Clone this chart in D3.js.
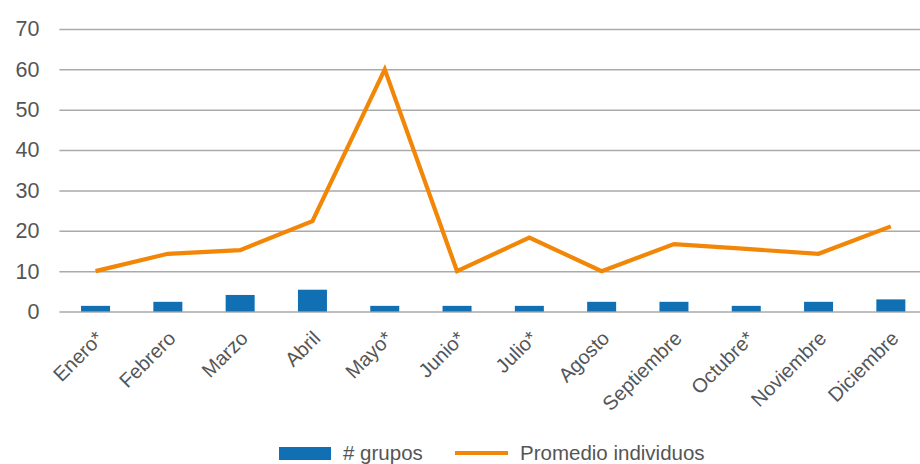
<!DOCTYPE html>
<html>
<head>
<meta charset="utf-8">
<script src="https://cdn.jsdelivr.net/npm/d3@7"></script>
<style>
  body { margin: 0; background: #fff; }
  svg { font-family: "Liberation Sans", Arial, sans-serif; }
  .tick text { fill: #555; }
</style>
</head>
<body>
<svg width="920" height="464"></svg>
<script>
const months = ["Enero*", "Febrero", "Marzo", "Abril", "Mayo*", "Junio*", "Julio*",
  "Agosto", "Septiembre", "Octubre*", "Noviembre", "Diciembre"];
const grupos = [1.4, 2.4, 4.1, 5.4, 1.4, 1.4, 1.4, 2.4, 2.4, 1.4, 2.4, 3.0];
const promedio = [10, 14.3, 15.2, 22.4, 60, 10, 18.3, 10, 16.7, 15.5, 14.3, 21.1];
const yTicks = [0, 10, 20, 30, 40, 50, 60, 70];

const svg = d3.select("svg");
const margin = { top: 29, left: 59.4, right: -7, bottom: 153 };
const width = +svg.attr("width");
const height = +svg.attr("height");

// escala de categorías
const x = d3.scaleBand()
  .domain(months)
  .range([margin.left, width - margin.right])
  .paddingInner(0)
  .paddingOuter(0);

const y = d3.scaleLinear()
  .domain([0, 70])
  .range([311.5, margin.top]);

// líneas de cuadrícula + etiquetas Y
const yAxis = svg.append("g")
  .attr("transform", `translate(${margin.left},0)`)
  .call(d3.axisLeft(y).tickValues(yTicks).tickSize(-(width - margin.left)).tickPadding(20));
yAxis.select(".domain").remove();
yAxis.selectAll(".tick line").attr("stroke", "#aaa").attr("stroke-width", 1.5);
yAxis.selectAll(".tick text").attr("font-size", 21.5).attr("fill", "#555");

// barras
const barW = 29;
svg.append("g")
  .selectAll("rect")
  .data(grupos)
  .join("rect")
  .attr("x", (d, i) => x(months[i]) + x.bandwidth() / 2 - barW / 2)
  .attr("width", barW)
  .attr("y", d => y(d))
  .attr("height", d => y(0) - y(d))
  .attr("fill", "#1170b4");

// línea promedio
const line = d3.line()
  .x((d, i) => x(months[i]) + x.bandwidth() / 2)
  .y(d => y(d));
svg.append("path")
  .datum(promedio)
  .attr("d", line)
  .attr("fill", "none")
  .attr("stroke", "#f28607")
  .attr("stroke-width", 4.2)
  .attr("stroke-linejoin", "miter");

// etiquetas X rotadas
const xAxis = svg.append("g")
  .attr("transform", `translate(0,${y(0)})`)
  .call(d3.axisBottom(x).tickSize(0));
xAxis.select(".domain").remove();
xAxis.selectAll(".tick text")
  .attr("font-size", 20)
  .attr("fill", "#555")
  .attr("text-anchor", "end")
  .attr("dy", "0.35em")
  .attr("transform", "translate(2,21) rotate(-45)");

// leyenda
const legend = svg.append("g");
legend.append("rect")
  .attr("x", 279).attr("y", 447).attr("width", 52).attr("height", 13)
  .attr("fill", "#1170b4");
legend.append("text")
  .attr("x", 343).attr("y", 460)
  .attr("font-size", 20.5).attr("fill", "#555")
  .text("# grupos");
legend.append("line")
  .attr("x1", 455).attr("x2", 508).attr("y1", 453).attr("y2", 453)
  .attr("stroke", "#f28607").attr("stroke-width", 4);
legend.append("text")
  .attr("x", 520).attr("y", 460)
  .attr("font-size", 20.5).attr("fill", "#555")
  .text("Promedio individuos");
</script>
</body>
</html>
